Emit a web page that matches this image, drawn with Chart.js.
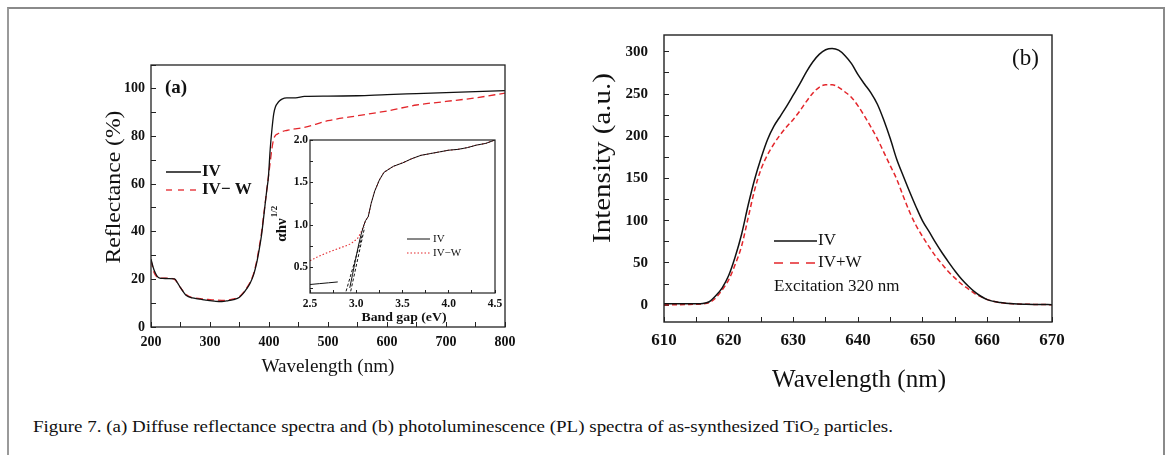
<!DOCTYPE html>
<html><head><meta charset="utf-8">
<script src="https://cdn.jsdelivr.net/npm/chart.js@4.4.1/dist/chart.umd.min.js"></script>
<style>
html,body{margin:0;padding:0;background:#fff;}
body{width:1170px;height:455px;position:relative;overflow:hidden;font-family:"Liberation Serif",serif;}
#frame{position:absolute;left:7px;top:7px;width:1158px;height:470px;box-sizing:border-box;border-top:2px solid #8a8a8a;border-left:2px solid #9a9a9a;border-right:2px solid #8a8a8a;}
canvas{position:absolute;}
#cA{left:90px;top:50px;}
#cI{left:262px;top:128px;}
#cB{left:580px;top:15px;}
#cap{position:absolute;left:33px;top:417px;font-size:17px;line-height:20px;color:#111;white-space:nowrap;transform-origin:0 50%;}
#cap sub{font-size:11px;vertical-align:-3px;line-height:0;}
</style></head>
<body>
<div id="frame"></div>
<canvas id="cA" width="430" height="335"></canvas>
<canvas id="cI" width="250" height="198"></canvas>
<canvas id="cB" width="490" height="385"></canvas>
<div id="cap">Figure 7. (a) Diffuse reflectance spectra and (b) photoluminescence (PL) spectra of as-synthesized TiO<sub>2</sub> particles.</div>
<script>
// ---------- Panel (a): diffuse reflectance ----------
const aWave = [200,205,210,215,220,230,240,245,250,260,270,280,290,300,310,320,330,340,350,356,362,368,374,379,383,387,390,393,396,399,402,405,408,411,414,418,422,430,445,460,500,550,600,650,700,750,800];
const aIV   = [28.5,24,21.5,20.5,20.4,20.3,20.2,18.5,16.5,13.2,12.2,11.8,11.4,11.1,10.8,10.7,11,11.5,12.5,14,16,18.4,22,26.8,32,38,44,50.6,57,63,74.5,83,89.5,92.5,93.8,95,95.7,96.2,96.2,96.8,96.9,97.1,97.6,98,98.4,98.8,99.2];
const aIVW  = [28,23,21,20.5,20.5,20.5,20,18.5,16.5,13.5,12.3,12,11.7,11.5,11.3,11.2,11.3,11.8,12.8,14.3,16.3,18.8,22.5,27.5,33,39,45,51,57,63,69,75,79,80.5,81,81.5,82,82.5,83.2,83.8,86.6,88.7,90.7,93.2,94.7,96.2,98.2];
const aXTicks  = [200,250,300,350,400,450,500,550,600,650,700,750,800];
const aXLabels = [200,300,400,500,600,700,800];
const aYTicks  = [0,10,20,30,40,50,60,70,80,90,100,110];
const aYLabels = [0,20,40,60,80,100];

// ---------- Inset: band gap ----------
const insetE   = [2.50,2.60,2.70,2.80,2.85,2.90,2.93,2.96,2.99,3.02,3.05,3.08,3.10,3.13,3.16,3.20,3.25,3.30,3.40,3.50,3.60,3.70,3.80,3.90,4.00,4.10,4.20,4.30,4.40,4.50];
const insetIV  = [0.30,0.31,0.32,0.33,null,null,0.26,0.42,0.58,0.74,0.88,0.99,1.05,1.10,1.25,1.40,1.53,1.62,1.69,1.73,1.78,1.82,1.84,1.86,1.88,1.89,1.91,1.94,1.96,2.00];
const insetIVW = [0.58,0.635,0.68,0.72,0.74,0.76,0.775,0.795,0.82,0.85,0.91,0.99,1.05,1.10,1.25,1.40,1.53,1.62,1.69,1.73,1.78,1.82,1.84,1.86,1.88,1.89,1.91,1.94,1.96,2.00];
const tanE1 = [2.89,3.07], tanV1 = [0.22,0.90];
const tanE2 = [2.94,3.09], tanV2 = [0.22,0.97];
const iXTicks  = [2.5,2.75,3.0,3.25,3.5,3.75,4.0,4.25,4.5];
const iXLabels = [2.5,3.0,3.5,4.0,4.5];
const iYTicks  = [0.25,0.5,0.75,1.0,1.25,1.5,1.75,2.0];
const iYLabels = [0.5,1.0,1.5,2.0];

// ---------- Panel (b): photoluminescence ----------
const bWave = [610,612,614,616,617,618,619,620,621,622,623,624,625,626,627,628,629,630,631,632,633,634,635,636,637,638,639,640,641,642,643,644,645,646,647,648,649,650,651,652,653,654,655,656,657,658,659,660,662,664,666,668,670];
const bIV   = [1.5,1.5,1.5,2,4,11,20.5,35,57,84,118,148.5,174,196,212,224,236,249,262,276,288,297,302.5,304,302,295.5,286,273,262,251.5,238,219,197,172.5,153,134,116,99.5,87,74,62,51,40.5,31,23,16,10.5,6.5,3,1.5,1,0.8,0.5];
const bIVW  = [0.5,0.5,0.8,1.5,3,8.5,18,30,48,70,103,136,161,178,191,202,211.5,220,230,241,251,258,261,261,258,252.5,246,236,224,211,197,181,165,149,129,110,94,81,69,58,48.5,39.5,32,25,19.5,14,10,6.5,3,1.5,1,0.8,0.5];
const bXTicks  = [610,615,620,625,630,635,640,645,650,655,660,665,670];
const bXLabels = [610,620,630,640,650,660,670];
const bYTicks  = [0,25,50,75,100,125,150,175,200,225,250,275,300];
const bYLabels = [0,50,100,150,200,250,300];

const BLACK = '#111111', RED = '#e3262b';
Chart.defaults.font.family = "'Liberation Serif', serif";
Chart.defaults.color = '#111';

const pts = (xs, ys) => xs.map((x, i) => ({x, y: ys[i]}));

function axis(min, max, tickVals, labelVals, fmt, font, pad, tl, fitKey, fitVal) {
  return {
    type: 'linear', min, max,
    afterBuildTicks: s => { s.ticks = tickVals.map(v => ({value: v})); },
    afterFit: s => {
      s[fitKey] = fitVal;
      s.paddingTop = 0; s.paddingBottom = 0; s.paddingLeft = 0; s.paddingRight = 0;
    },
    grid: {drawOnChartArea: false, drawTicks: true, tickLength: tl, tickColor: '#222', tickWidth: 1},
    border: {display: false},
    ticks: {autoSkip: false, maxRotation: 0, minRotation: 0, padding: pad, color: '#111', font,
      callback: v => labelVals.some(l => Math.abs(l - v) < 1e-9) ? fmt(v) : ''}
  };
}

function drawText(ctx, it) {
  ctx.save();
  ctx.font = it.font;
  ctx.fillStyle = it.color || '#111';
  ctx.textBaseline = 'middle';
  ctx.translate(it.x, it.y);
  if (it.rot) ctx.rotate(it.rot);
  const w = ctx.measureText(it.text).width;
  const sx = it.len ? it.len / w : 1;
  ctx.scale(sx, 1);
  ctx.textAlign = it.align || 'center';
  ctx.fillText(it.text, 0, 0);
  if (it.sup) {
    ctx.font = it.supFont;
    ctx.textAlign = 'left';
    ctx.fillText(it.sup, w / 2 + 1, -7);
  }
  ctx.restore();
}

function decor(id, boxWidth, texts, legend) {
  return {
    id,
    afterDraw(chart) {
      const ctx = chart.ctx, ca = chart.chartArea;
      ctx.save();
      ctx.strokeStyle = '#222';
      ctx.lineWidth = boxWidth;
      ctx.strokeRect(ca.left, ca.top, ca.right - ca.left, ca.bottom - ca.top);
      ctx.restore();
      texts.forEach(t => drawText(ctx, t));
      legend.forEach(l => {
        if (l.ds !== undefined) {
          const ds = chart.data.datasets[l.ds];
          ctx.save();
          ctx.strokeStyle = ds.borderColor;
          ctx.lineWidth = ds.borderWidth;
          ctx.setLineDash(l.dash || ds.borderDash || []);
          ctx.beginPath(); ctx.moveTo(l.x1, l.y); ctx.lineTo(l.x2, l.y); ctx.stroke();
          ctx.restore();
        }
        drawText(ctx, {text: l.text, x: l.tx, y: l.y, font: l.font, align: 'left', len: l.len});
      });
    }
  };
}

// ---------- Chart (a) ----------
new Chart(document.getElementById('cA'), {
  type: 'line',
  data: {datasets: [
    {label: 'IV', data: pts(aWave, aIV), borderColor: BLACK, borderWidth: 1.3, pointRadius: 0, cubicInterpolationMode: 'monotone'},
    {label: 'IV\u2212 W', data: pts(aWave, aIVW), borderColor: RED, borderWidth: 1.3, borderDash: [7, 4], pointRadius: 0, cubicInterpolationMode: 'monotone'}
  ]},
  options: {
    responsive: false, animation: false,
    layout: {padding: {left: 0, top: 15, right: 15, bottom: 0}},
    plugins: {legend: {display: false}, tooltip: {enabled: false}},
    scales: {
      x: axis(200, 800, aXTicks, aXLabels, v => String(v), {size: 14, weight: 'bold'}, 12, -5, 'height', 58),
      y: axis(0, 110, aYTicks, aYLabels, v => String(v), {size: 14, weight: 'bold'}, 11, -5, 'width', 61)
    }
  },
  plugins: [decor('decA', 1.3, [
    {text: 'Reflectance (%)', x: 24, y: 137, rot: -Math.PI / 2, font: '22px "Liberation Serif"', len: 153},
    {text: 'Wavelength (nm)', x: 238, y: 317, font: '19px "Liberation Serif"', len: 133},
    {text: '(a)', x: 75, y: 38, font: 'bold 19px "Liberation Serif"', align: 'left'}
  ], [
    {ds: 0, x1: 76, x2: 111, y: 122, tx: 112, text: 'IV', font: 'bold 17px "Liberation Serif"'},
    {ds: 1, x1: 76, x2: 111, y: 140, tx: 112, text: 'IV\u2212 W', font: 'bold 17px "Liberation Serif"', dash: [6, 6]}
  ])]
});

// ---------- Inset ----------
new Chart(document.getElementById('cI'), {
  type: 'line',
  data: {datasets: [
    {label: 'IV', data: pts(insetE, insetIV), borderColor: BLACK, borderWidth: 1, pointRadius: 0, spanGaps: false},
    {label: 'tan1', data: pts(tanE1, tanV1), borderColor: BLACK, borderWidth: 1, borderDash: [3, 2], pointRadius: 0},
    {label: 'tan2', data: pts(tanE2, tanV2), borderColor: BLACK, borderWidth: 1, borderDash: [3, 2], pointRadius: 0},
    {label: 'IV\u2212W', data: pts(insetE, insetIVW), borderColor: RED, borderWidth: 1.1, borderDash: [1.5, 2], pointRadius: 0}
  ]},
  options: {
    responsive: false, animation: false,
    layout: {padding: {left: 0, top: 12, right: 17, bottom: 0}},
    plugins: {legend: {display: false}, tooltip: {enabled: false}},
    scales: {
      x: axis(2.5, 4.5, iXTicks, iXLabels, v => v.toFixed(1), {size: 11.5, weight: 'bold'}, 7, -3, 'height', 33),
      y: axis(0.2, 2.0, iYTicks, iYLabels, v => v.toFixed(1), {size: 11.5, weight: 'bold'}, 5, -3, 'width', 48)
    }
  },
  plugins: [decor('decI', 1.2, [
    {text: '\u03b1h\u03bd', x: 20, y: 102, rot: -Math.PI / 2, font: 'bold 15px "Liberation Serif"', sup: '1/2', supFont: 'bold 9px "Liberation Serif"'},
    {text: 'Band gap (eV)', x: 142, y: 190, font: 'bold 13px "Liberation Serif"', len: 85}
  ], [
    {ds: 0, x1: 145, x2: 168, y: 111, tx: 171, text: 'IV', font: '11px "Liberation Serif"'},
    {ds: 3, x1: 145, x2: 168, y: 125, tx: 171, text: 'IV\u2212W', font: '11px "Liberation Serif"'}
  ])]
});

// ---------- Chart (b) ----------
new Chart(document.getElementById('cB'), {
  type: 'line',
  data: {datasets: [
    {label: 'IV', data: pts(bWave, bIV), borderColor: BLACK, borderWidth: 1.5, pointRadius: 0, cubicInterpolationMode: 'monotone'},
    {label: 'IV+W', data: pts(bWave, bIVW), borderColor: RED, borderWidth: 1.5, borderDash: [5, 3], pointRadius: 0, cubicInterpolationMode: 'monotone'}
  ]},
  options: {
    responsive: false, animation: false,
    layout: {padding: {left: 0, top: 20, right: 18, bottom: 0}},
    plugins: {legend: {display: false}, tooltip: {enabled: false}},
    scales: {
      x: axis(610, 670, bXTicks, bXLabels, v => String(v), {size: 17, weight: 'bold'}, 13, -5, 'height', 78),
      y: axis(-20, 320, bYTicks, bYLabels, v => String(v), {size: 15, weight: 'bold'}, 21, -5, 'width', 84)
    }
  },
  plugins: [decor('decB', 1.4, [
    {text: 'Intensity (a.u.)', x: 23, y: 143, rot: -Math.PI / 2, font: '25px "Liberation Serif"', len: 170},
    {text: 'Wavelength (nm)', x: 279, y: 365, font: '25px "Liberation Serif"', len: 174},
    {text: '(b)', x: 432, y: 44, font: '23px "Liberation Serif"', align: 'left'}
  ], [
    {ds: 0, x1: 194, x2: 237, y: 226, tx: 238, text: 'IV', font: '17px "Liberation Serif"'},
    {ds: 1, x1: 194, x2: 237, y: 248, tx: 238, text: 'IV+W', font: '17px "Liberation Serif"', dash: [9, 7]},
    {x1: 0, x2: 0, y: 272, tx: 194, text: 'Excitation 320 nm', font: '17px "Liberation Serif"'}
  ])]
});

// caption: stretch to the reference's width (x 33 -> 893)
(function () {
  const cap = document.getElementById('cap');
  const w = cap.getBoundingClientRect().width;
  cap.style.transform = 'scaleX(' + (860 / w).toFixed(4) + ')';
})();
</script>
</body></html>
